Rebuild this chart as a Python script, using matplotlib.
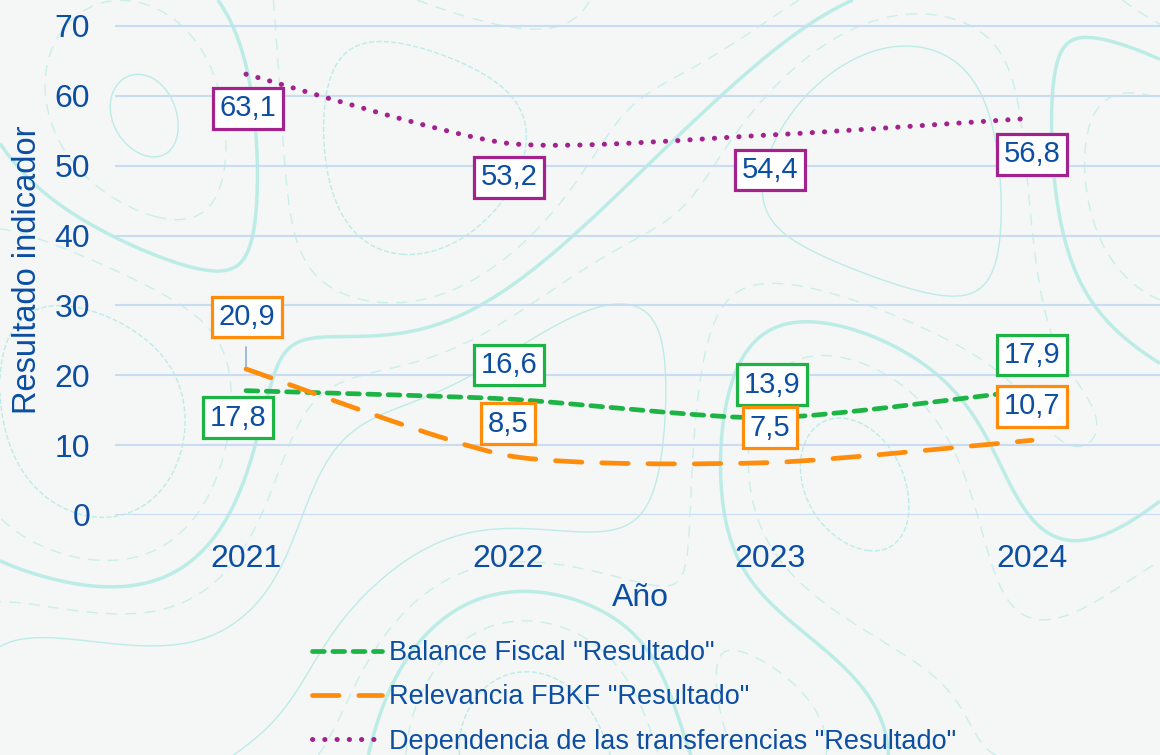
import numpy as np
import matplotlib.pyplot as plt
from matplotlib.path import Path
from matplotlib.patches import PathPatch
from matplotlib.lines import Line2D

plt.rcParams['font.family'] = ['Liberation Sans', 'DejaVu Sans']

years = ['2021', '2022', '2023', '2024']
balance = [17.8, 16.6, 13.9, 17.9]
relevancia = [20.9, 8.5, 7.5, 10.7]
dependencia = [63.1, 53.2, 54.4, 56.8]

names = ['Balance Fiscal "Resultado"',
         'Relevancia FBKF "Resultado"',
         'Dependencia de las transferencias "Resultado"']

txt = '#0b4ea2'
green = '#1db446'
orange = '#ff8c0a'
purple = '#a3238e'
grid_c = '#c8dcf2'
bg = '#f5f6f6'


def smooth_path(xs, ys, k=1 / 9.0):
    # bezier through the points, like excel's smoothed lines
    pts = np.column_stack([xs, ys]).astype(float)
    ext = np.vstack([pts[0], pts, pts[-1]])
    verts = [tuple(pts[0])]
    codes = [Path.MOVETO]
    for i in range(len(pts) - 1):
        p0, p1, p2, p3 = ext[i], ext[i + 1], ext[i + 2], ext[i + 3]
        c1 = p1 + (p2 - p0) * k
        c2 = p2 - (p3 - p1) * k
        verts += [tuple(c1), tuple(c2), tuple(p2)]
        codes += [Path.CURVE4] * 3
    return Path(verts, codes)


fig = plt.figure(figsize=(11.6, 7.55), dpi=100)
fig.patch.set_facecolor(bg)

# decorative topographic background
bgax = fig.add_axes([0, 0, 1, 1], zorder=-5)
bgax.set_axis_off()
gx, gy = np.meshgrid(np.linspace(0, 11.6, 300), np.linspace(0, 7.55, 200))
field = (np.sin(gx * 0.9 + 0.4) * np.cos(gy * 1.1 - 0.3)
         + 0.6 * np.sin(gx * 0.45 - gy * 0.7 + 1.2)
         + 0.35 * np.cos(gx * 1.7 + gy * 0.5))
bgax.contour(gx, gy, field, levels=[-1.0, 0.0, 0.8],
             colors='#aeeae3', linewidths=[1, 2.5, 1], alpha=0.8)
bgax.contour(gx, gy, field, levels=[-0.4, 0.4], colors='#b8ece6',
             linewidths=1, linestyles=[(0, (8, 6))], alpha=0.7)
bgax.set_xlim(0, 11.6)
bgax.set_ylim(0, 7.55)

ax = fig.add_axes([115 / 1160, 240 / 755, 1048 / 1160, 515 / 755])
ax.set_facecolor('none')
x = np.arange(len(years))

styles = [
    dict(color=green, lw=3.4, ls=(0, (2.5, 1.8)), cap='round'),
    dict(color=orange, lw=3.4, ls=(0, (5.6, 4.2)), cap='round'),
    dict(color=purple, lw=3.6, ls=(0, (0.05, 2.4)), cap='round'),
]
series = [balance, relevancia, dependencia]

for vals, st in zip(series, styles):
    patch = PathPatch(smooth_path(x, vals), fill=False, edgecolor=st['color'],
                      lw=st['lw'], linestyle=st['ls'], capstyle=st['cap'],
                      zorder=3)
    ax.add_patch(patch)

# data labels (offsets in pixels)
offs = [
    [(-8, -27), (1, 34), (2, 33), (0, 35)],
    [(1, 52), (0, 32), (0, 35), (0, 34)],
    [(2, -34), (1, -34), (0, -35), (0, -36)],
]
for vals, st, off in zip(series, styles, offs):
    for i, v in enumerate(vals):
        label = f'{v:.1f}'.replace('.', ',')
        ax.annotate(label, (i, v), xytext=off[i], textcoords='offset pixels',
                    ha='center', va='center', fontsize=21, color=txt,
                    zorder=5,
                    bbox=dict(boxstyle='square,pad=0.22', fc='white',
                              ec=st['color'], lw=2.3))
# leader line for 20,9
ax.annotate('', (0, relevancia[0]), xytext=(0, 22), textcoords='offset pixels',
            arrowprops=dict(arrowstyle='-', color='#8fb0dd', lw=1.2,
                            shrinkA=0, shrinkB=0), zorder=2)

ax.set_xlim(-0.5, 3.5)
ax.set_ylim(0, 515 / 6.986)
ax.set_yticks(range(0, 71, 10))
ax.set_xticks(x)
ax.set_xticklabels(years)
ax.grid(axis='y', color=grid_c, lw=1.5)
ax.set_axisbelow(True)
for s in ax.spines.values():
    s.set_visible(False)
ax.tick_params(length=0, labelsize=23, labelcolor=txt)
ax.tick_params(axis='y', pad=18)
ax.tick_params(axis='x', pad=21)

fig.text(640 / 1160, 1 - 598 / 755, 'Año', ha='center', va='center',
         fontsize=23, color=txt)
fig.text(28 / 1160, 1 - 270 / 755, 'Resultado indicador', rotation=90,
         ha='center', va='center', fontsize=23.5, color=txt)

handles = [Line2D([], [], color=st['color'], lw=st['lw'], ls=st['ls'],
                  dash_capstyle=st['cap']) for st in styles]
leg = fig.legend(handles, names, loc='upper left',
                 bbox_to_anchor=(312 / 1160, 1 - 640 / 755), frameon=False,
                 fontsize=19.5, labelcolor=txt, handlelength=2.6,
                 handletextpad=0.25, labelspacing=0.68, borderaxespad=0,
                 borderpad=0)

fig.savefig('out.png', dpi=100, facecolor=bg)
